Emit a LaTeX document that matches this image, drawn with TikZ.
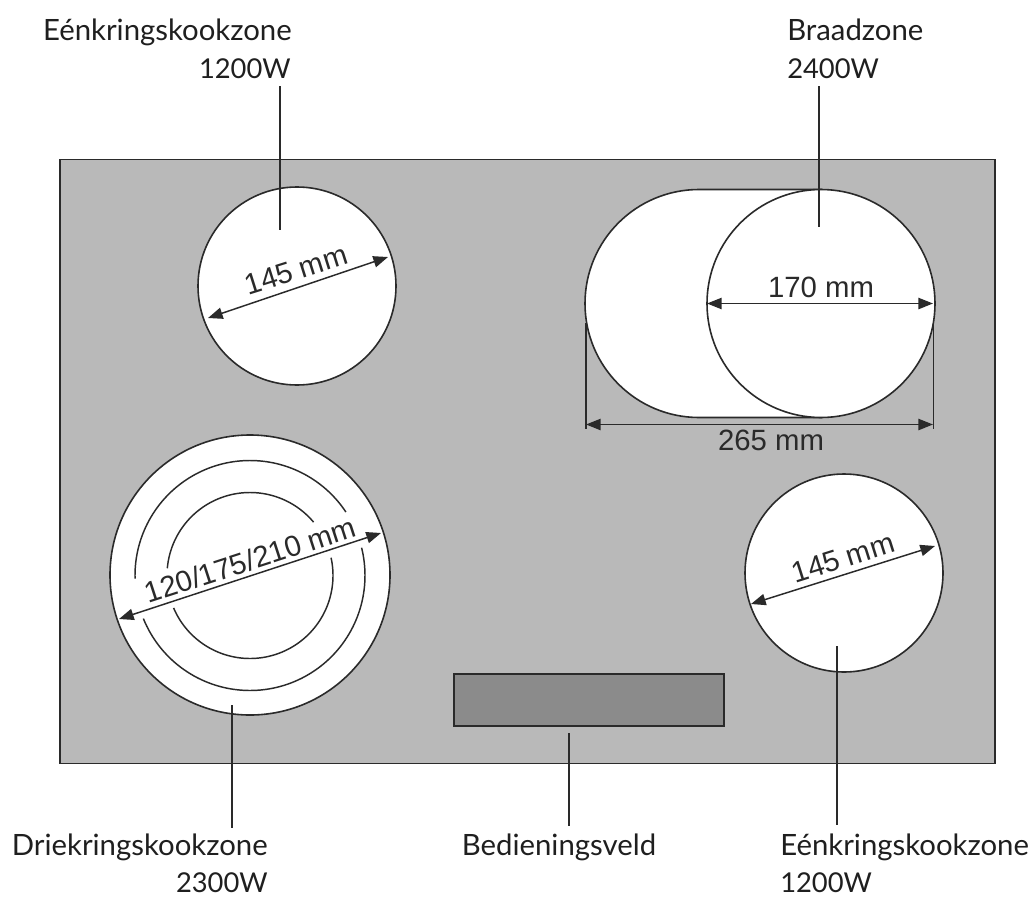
\documentclass[tikz,border=0pt]{standalone}
\usepackage{fontspec}
\setmainfont{Lato}
\newfontfamily\dimfont{Liberation Sans}
\usetikzlibrary{arrows.meta}
\definecolor{plategray}{HTML}{B9B9B9}
\definecolor{panelgray}{HTML}{8B8B8B}
\definecolor{inkdark}{HTML}{2A2A2A}
\tikzset{
  outline/.style={draw=inkdark,line width=1.2pt},
  zone/.style={outline,circle,fill=white,inner sep=0pt,minimum size=#1*1.5pt},
  ringline/.style={draw=inkdark,line width=1.1pt},
  leader/.style={draw=inkdark,line width=1.1pt},
  dimline/.style={draw=inkdark,line width=1.1pt,{Triangle[length=11pt,width=8.5pt]}-{Triangle[length=11pt,width=8.5pt]}},
  dimtext/.style={font=\dimfont\fontsize{22}{24}\selectfont,text=inkdark,inner sep=0pt},
  lbl/.style={font=\fontsize{22}{26}\selectfont,text=black!88,inner sep=0pt},
  lblnum/.style={lbl,font=\fontsize{20.5}{26}\selectfont}
}
\newcommand\ringarc[3]{\draw[ringline,domain=#2:#3,samples=90,variable=\t] plot ({250+#1*cos(\t)},{575.5+#1*sin(\t)});}
\begin{document}
\begin{tikzpicture}[x=0.75pt,y=-0.75pt]
\useasboundingbox (0,0) rectangle (1031,903);
% plate
\node[outline,fill=plategray,anchor=north west,inner sep=0pt,minimum width=701.25pt,minimum height=453pt] (plate) at (59.2,158.5) {};
% control panel
\node[outline,fill=panelgray,anchor=north west,inner sep=0pt,minimum width=202.5pt,minimum height=39pt] (panel) at (453.2,673.2) {};
% top-left zone
\node[zone=99] (zoneTL) at (297,286) {};
% bottom-right zone
\node[zone=99] (zoneBR) at (844,573) {};
% triple zone
\node[zone=140] (zoneBL) at (250,575) {};
\ringarc{115}{178.5}{326.5}
\ringarc{115}{158}{-14}
\ringarc{83}{185}{320}
\ringarc{83}{157}{-12.4}
% roasting zone
\draw[outline,fill=white] (821,189.5) -- (699,189.5) arc[start angle=90,end angle=270,radius=85.5pt] -- (821,417.5) -- cycle;
\node[zone=114] (zoneR) at (821,303.5) {};
% dimension end points
\coordinate (tlA) at (208,318); \coordinate (tlB) at (388,257);
\coordinate (brA) at (751,604); \coordinate (brB) at (935,546);
\coordinate (blA) at (119,619); \coordinate (blB) at (381,533);
\coordinate (rA) at (707,303.5); \coordinate (rB) at (933,303.5);
\coordinate (wA) at (586,424.5); \coordinate (wB) at (933,424.5);
\coordinate (extLa) at (586,323); \coordinate (extLb) at (586,429);
\coordinate (extRa) at (933.5,323); \coordinate (extRb) at (933.5,429);
\draw[dimline] (tlA) -- (tlB);
\draw[dimline] (brA) -- (brB);
\draw[dimline] (blA) -- (blB);
\draw[dimline] (rA) -- (rB);
\draw[dimline] (wA) -- (wB);
\draw[leader] (extLa) -- (extLb);
\draw[leader] (extRa) -- (extRb);
% dimension texts
\node[dimtext,rotate=17.5] (d1) at (296,270) {145 mm};
\node[dimtext,rotate=17.5] (d2) at (843,558) {145 mm};
\node[dimtext,rotate=18] (d3) at (250,560) {120/175/210 mm};
\node[dimtext] (d4) at (821,287) {170 mm};
\node[dimtext] (d5) at (771,440) {265 mm};
% labels
\node[lbl,anchor=base east] (l1) at (292,40) {Eénkringskookzone};
\node[lblnum,anchor=base east] (l1b) at (291,78) {1200W};
\node[lbl,anchor=base west] (l2) at (787,40) {Braadzone};
\node[lblnum,anchor=base west] (l2b) at (787,78) {2400W};
\node[lbl,anchor=base east] (l3) at (268,855) {Driekringskookzone};
\node[lblnum,anchor=base east] (l3b) at (268,892) {2300W};
\node[lbl,anchor=base] (l4) at (559,855) {Bedieningsveld};
\node[lbl,anchor=base west] (l5) at (780,855) {Eénkringskookzone};
\node[lblnum,anchor=base west] (l5b) at (780,892) {1200W};
% leaders
\coordinate (q1a) at (280,86); \coordinate (q1b) at (280,230);
\coordinate (q2a) at (819,86); \coordinate (q2b) at (819,227);
\coordinate (q3a) at (232,705); \coordinate (q3b) at (232,828);
\coordinate (q4a) at (569,733); \coordinate (q4b) at (569,826);
\coordinate (q5a) at (837,646); \coordinate (q5b) at (837,825);
\draw[leader] (q1a) -- (q1b);
\draw[leader] (q2a) -- (q2b);
\draw[leader] (q3a) -- (q3b);
\draw[leader] (q4a) -- (q4b);
\draw[leader] (q5a) -- (q5b);
\end{tikzpicture}
\end{document}
